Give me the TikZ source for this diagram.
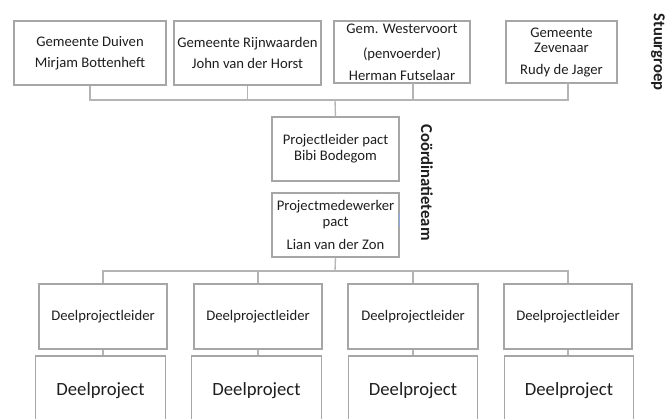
\documentclass[tikz,border=0pt]{standalone}
\usepackage{fontspec}
\setmainfont{Carlito}
\definecolor{boxgray}{HTML}{A6A6A6}
\definecolor{linegray}{HTML}{B4B4B4}
\definecolor{txt}{HTML}{1E1E1E}
\definecolor{tick}{HTML}{8FAADC}
\begin{document}
\begin{tikzpicture}[x=0.75pt,y=-0.75pt,
  box/.style={draw=boxgray,line width=0.8pt,rectangle,inner sep=0pt,align=center,text=txt,
    font=\fontsize{11}{12}\selectfont},
  lbox/.style={box,minimum width=96pt,minimum height=48.75pt},
  pbox/.style={box,minimum width=97pt,minimum height=52.5pt,font=\fontsize{14}{16}\selectfont},
  conn/.style={draw=linegray,line width=1pt},
  side/.style={rotate=-90,font=\fontsize{12.5}{14}\selectfont\bfseries,text=txt,inner sep=0pt}]
\useasboundingbox (0,0) rectangle (667,418);
% Stuurgroep
\node[box,minimum width=114pt,minimum height=48pt] (b1) at (90,53) {Gemeente Duiven\\[3.75pt]Mirjam Bottenheft};
\node[box,minimum width=110.25pt,minimum height=48pt] (b2) at (247.5,53) {Gemeente Rijnwaarden\\[3.75pt]John van der Horst};
\node[box,minimum width=102pt,minimum height=46.5pt] (b3) at (402,52) {Gem. Westervoort\\[6.75pt](penvoerder)\\[4.5pt]Herman Futselaar};
\node[box,minimum width=83.25pt,minimum height=46.5pt] (b4) at (561.5,52) {Gemeente\\[-0.75pt]Zevenaar\\[4.5pt]Rudy de Jager};
\node[side] (st) at (658,52) {Stuurgroep};
% Coordinatieteam
\node[box,minimum width=95.25pt,minimum height=48pt] (pl) at (335.5,149) {Projectleider pact\\Bibi Bodegom};
\node[box,minimum width=95.25pt,minimum height=48pt] (pm) at (335.5,225) {Projectmedewerker\\pact\\[5.25pt]Lian van der Zon};
\node[side] (ct) at (427,182.5) {Coördinatieteam};
% Deelprojecten
\node[lbox] (la) at (103,316.5) {Deelprojectleider};
\node[lbox] (lb) at (258,316.5) {Deelprojectleider};
\node[lbox,minimum width=97.5pt] (lc) at (413,316.5) {Deelprojectleider};
\node[lbox] (ld) at (568,316.5) {Deelprojectleider};
\node[pbox] (pa) at (100.5,391) {Deelproject};
\node[pbox] (pb) at (256.5,391) {Deelproject};
\node[pbox] (pc) at (413,391) {Deelproject};
\node[pbox] (pd) at (569,391) {Deelproject};
% connectors top
\coordinate (t3) at (413,83);
\coordinate (t4) at (568,83);
\coordinate (bus) at (335,100);
\draw[conn] (b1.south) |- (t4 |- bus) -- (t4);
\draw[conn] (b2.south) -- (b2.south |- bus);
\draw[conn] (t3) -- (t3 |- bus);
\draw[conn] (bus) -- (pl.north);
% connectors bottom
\coordinate (bus2) at (335,271);
\draw[conn] (pm.south) -- (bus2);
\draw[conn] (la.north) |- (bus2) -| (ld.north);
\draw[conn] (lb.north) -- (lb.north |- bus2);
\draw[conn] (lc.north) -- (lc.north |- bus2);
\foreach \l/\p in {la/pa,lb/pb,lc/pc,ld/pd}{
  \draw[conn] (\l.south) -- (\l.south |- \p.north);
}
% small blue tick
\coordinate (k1) at (399,213);
\coordinate (k2) at (399,227);
\draw[tick,line width=0.6pt] (k1) -- (k2);
\end{tikzpicture}
\end{document}
